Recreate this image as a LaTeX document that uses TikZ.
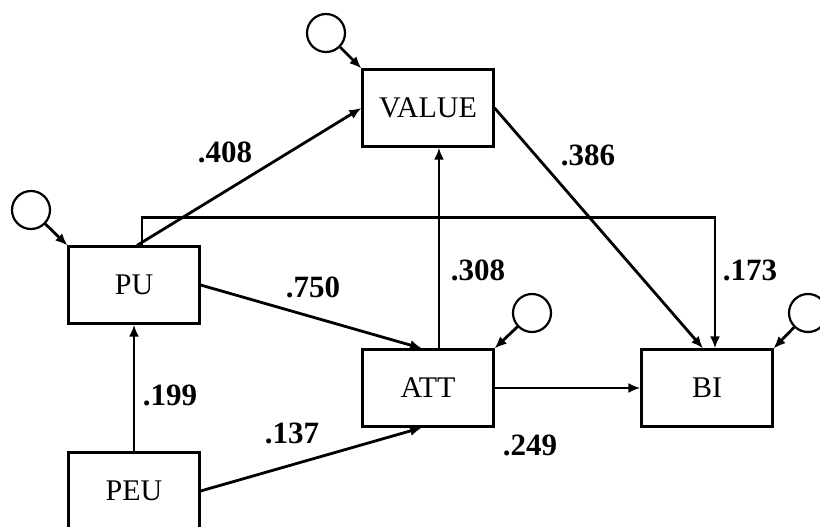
\documentclass[tikz,border=0pt]{standalone}
\usepackage{fontspec}
\setmainfont{Liberation Serif}
\usetikzlibrary{arrows.meta}

\newcommand{\lw}{2.8pt}   % path line width
\tikzset{
  var/.style={draw, line width=2.2pt, minimum width=131pt, minimum height=77pt,
              inner sep=0pt, font=\fontsize{30}{32}\selectfont},
  err/.style={draw, circle, line width=2.2pt, minimum size=38pt, inner sep=0pt},
  eff/.style={line width=\lw, -{Latex[length=12pt,width=10pt]}},
  coef/.style={font=\bfseries\fontsize{31}{32}\selectfont}
}

\begin{document}
\begin{tikzpicture}[x=1pt,y=-1pt]
  \useasboundingbox (0,0) rectangle (820,527);
  \node[var] (value) at (428,108) {VALUE};
  \node[var] (pu)    at (134,285) {PU};
  \node[var] (att)   at (428,388) {ATT};
  \node[var] (bi)    at (707,388) {BI};
  \node[var] (peu)   at (134,491) {PEU};
%
  \node[err] (evalue) at (326,33)  {};
  \node[err] (epu)    at (31,210)  {};
  \node[err] (eatt)   at (532,313) {};
  \node[err] (ebi)    at (808,313) {};
  \draw[eff] (evalue) -- (value.north west);
  \draw[eff] (epu)    -- (pu.north west);
  \draw[eff] (eatt)   -- (att.north east);
  \draw[eff] (ebi)    -- (bi.north east);
%
  \draw[eff] ([xshift=3pt]pu.north) -- (value.west);
  \draw[eff] ([xshift=8pt]pu.north) -- ++(0,-28) -| ([xshift=8pt]bi.north);
  \draw[eff] (value.east) -- ([xshift=-4pt]bi.north);
  \draw[eff] ([xshift=11pt]att.north) -- ([xshift=11pt]value.south);
  \draw[eff] (pu.east) -- ([xshift=-6pt]att.north);
  \draw[eff] (peu.east) -- ([xshift=-6pt]att.south);
  \draw[eff] (peu.north) -- (pu.south);
  \draw[eff] (att.east) -- (bi.west);
%
  \node[coef] (c408) at (225,152) {.408};
  \node[coef] (c386) at (588,155) {.386};
  \node[coef] (c750) at (313,287) {.750};
  \node[coef] (c308) at (478,270) {.308};
  \node[coef] (c173) at (750,270) {.173};
  \node[coef] (c199) at (170,395) {.199};
  \node[coef] (c137) at (292,433) {.137};
  \node[coef] (c249) at (530,445) {.249};
\end{tikzpicture}
\end{document}
